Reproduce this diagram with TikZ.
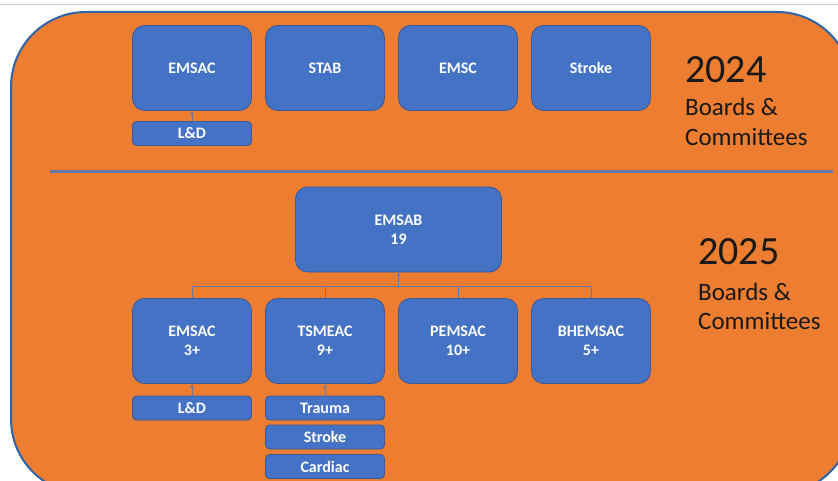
\documentclass[tikz,border=0pt]{standalone}
\usepackage{fontspec}
\setmainfont{Carlito}
\usetikzlibrary{arrows.meta}

\definecolor{panelorange}{HTML}{ED7D31}
\definecolor{paneledge}{HTML}{2E64A8}
\definecolor{boxblue}{HTML}{4472C4}
\definecolor{boxedge}{HTML}{3A5A98}
\definecolor{linkgray}{HTML}{6676A6}

\tikzset{
  box/.style={draw=boxedge, fill=boxblue, rounded corners=12pt, line width=0.8pt,
    minimum width=119pt, minimum height=85pt, text=white, align=center,
    font=\bfseries\fontsize{16}{19}\selectfont},
  bar/.style={box, rounded corners=4pt, minimum height=24pt, inner sep=0pt},
  link/.style={draw=linkgray, line width=0.8pt},
  year/.style={anchor=base west, inner sep=0pt, text=black!90, font=\fontsize{40}{48}\selectfont},
  caption/.style={anchor=base west, inner sep=0pt, text=black!90, font=\fontsize{25}{30}\selectfont}
}

\begin{document}
\begin{tikzpicture}[x=1pt,y=-1pt]
\useasboundingbox (0,0) rectangle (838,481);
\clip (0,0) rectangle (838,481);
\fill[white] (0,0) rectangle (838,481);
\draw[black!20] (0,4) -- (838,4);

% the orange panel
\draw[paneledge, fill=panelorange, line width=2pt, rounded corners=75pt]
  (11,12) rectangle (852,494);
\draw[linkgray, line width=3pt] (50,172) -- (833,172);

% 2024
\node[box] (emsac1) at (192,68) {EMSAC};
\node[box] (stab) at (325,68) {STAB};
\node[box] (emsc) at (458,68) {EMSC};
\node[box] (stroke1) at (591,68) {Stroke};
\node[bar] (ld1) at (192,133.5) {L\&D};
\draw[link,-{Latex[length=4pt,width=3.5pt]}] (ld1.north) -- (emsac1.south);

\node[year] (year24) at (685,83) {2024};
\node[caption] (boards24) at (685,116) {Boards \&};
\node[caption] (comm24) at (685,146) {Committees};

% 2025
\node[box, minimum width=206pt] (emsab) at (398.5,229.5) {EMSAB\\19};
\node[box] (emsac2) at (192,341) {EMSAC\\3+};
\node[box] (tsmeac) at (325,341) {TSMEAC\\9+};
\node[box] (pemsac) at (458,341) {PEMSAC\\10+};
\node[box] (bhemsac) at (591,341) {BHEMSAC\\5+};

\coordinate (bus) at (398.5,286);
\draw[link,-{Latex[length=4pt,width=4pt]}] (bus) -- (emsab.south);
\foreach \n in {emsac2,tsmeac,pemsac,bhemsac}
  \draw[link] (bus) -| (\n.north);

\node[bar] (ld2) at (192,408) {L\&D};
\node[bar] (trauma) at (325,408) {Trauma};
\node[bar] (stroke2) at (325,437) {Stroke};
\node[bar] (cardiac) at (325,466.5) {Cardiac};
\draw[link,-{Latex[length=4pt,width=3.5pt]}] (ld2.north) -- (emsac2.south);
\draw[link,-{Latex[length=4pt,width=3.5pt]}] (trauma.north) -- (tsmeac.south);

\node[year] (year25) at (698,265) {2025};
\node[caption] (boards25) at (698,300) {Boards \&};
\node[caption] (comm25) at (698,329) {Committees};
\end{tikzpicture}
\end{document}
